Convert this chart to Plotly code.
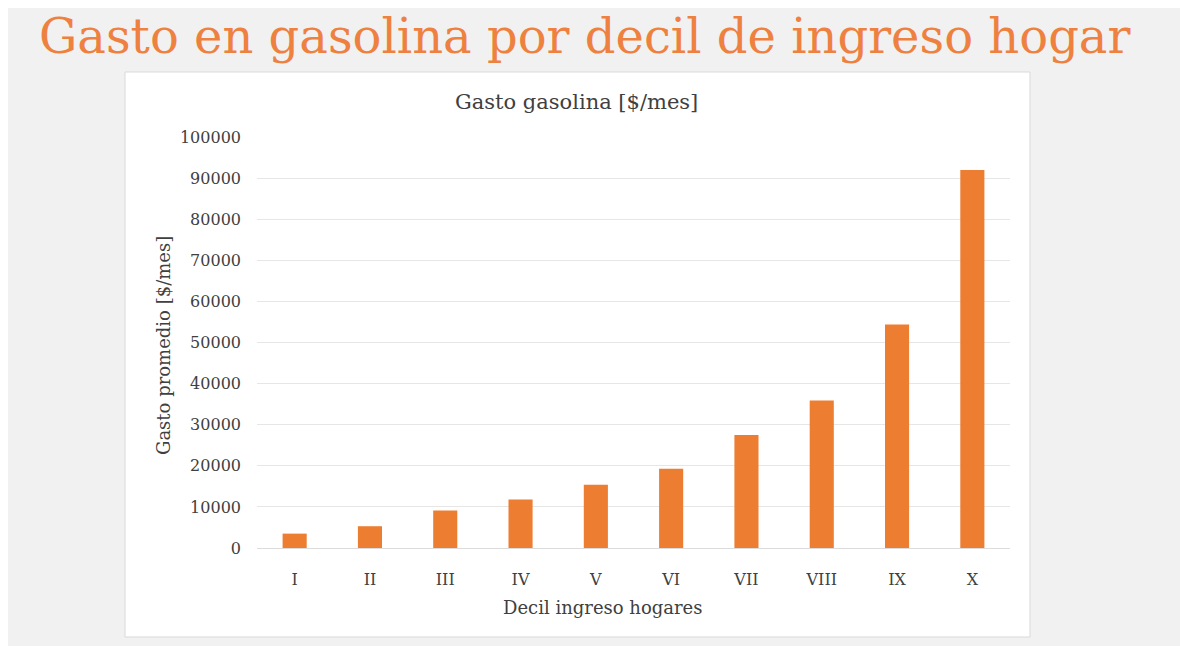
import plotly.graph_objects as go

deciles = ["I", "II", "III", "IV", "V", "VI", "VII", "VIII", "IX", "X"]
gasto = [3500, 5300, 9100, 11800, 15400, 19300, 27500, 35900, 54400, 92000]
y_ticks = list(range(0, 100001, 10000))

OFF = 8  # page body margin
W, H = 1188 - OFF, 646 - OFF
L, R, T, B = 257, 1010, 137, 548  # plot area, page pixels


def px_x(p):
    return (p - L) / (R - L)


def px_y(p):
    return (B - p) / (B - T)


SERIF = "DejaVu Serif"
ORANGE = "#ED7D31"
TXT = "#404040"

fig = go.Figure(go.Bar(x=deciles, y=gasto, marker=dict(color=ORANGE, line=dict(width=0))))

fig.update_layout(
    width=W, height=H,
    margin=dict(l=L - OFF, r=W - (R - OFF), t=T - OFF, b=H - (B - OFF), autoexpand=False),
    paper_bgcolor="#f1f1f1",
    plot_bgcolor="white",
    bargap=0.68,
    showlegend=False,
    font=dict(family=SERIF, color="#595959"),
    shapes=[
        dict(type="rect", xref="paper", yref="paper", x0=px_x(125), x1=px_x(1030),
             y0=px_y(637), y1=px_y(72), fillcolor="white", line=dict(color="#d9d9d9", width=1),
             layer="below"),
    ],
    annotations=[
        dict(text="Gasto en gasolina por decil de ingreso hogar", xref="paper", yref="paper",
             x=px_x(584), y=px_y(36), xanchor="center", yanchor="middle", showarrow=False,
             font=dict(family=SERIF, size=48, color="#EE8140")),
        dict(text="Gasto gasolina [$/mes]", xref="paper", yref="paper",
             x=px_x(576.5), y=px_y(102), xanchor="center", yanchor="middle", showarrow=False,
             font=dict(family=SERIF, size=21, color=TXT)),
        dict(text="Gasto promedio [$/mes]", xref="paper", yref="paper", textangle=-90,
             x=px_x(163), y=px_y(346), xanchor="center", yanchor="middle", showarrow=False,
             font=dict(family=SERIF, size=18, color=TXT)),
        dict(text="Decil ingreso hogares", xref="paper", yref="paper",
             x=px_x(602.5), y=px_y(607), xanchor="center", yanchor="middle", showarrow=False,
             font=dict(family=SERIF, size=18, color=TXT)),
    ],
)

fig.update_yaxes(range=[0, 100000], tickvals=y_ticks, ticktext=[str(v) for v in y_ticks],
                 showgrid=True, gridcolor="#e6e6e6", gridwidth=1, zeroline=False,
                 showline=False, ticks="", ticklabelstandoff=15,
                 tickfont=dict(family=SERIF, size=16, color=TXT), fixedrange=True)
fig.update_xaxes(showgrid=False, showline=True, linecolor="#dcdcdc", linewidth=1,
                 ticks="", ticklabelstandoff=17,
                 tickfont=dict(family=SERIF, size=16, color=TXT), fixedrange=True)

fig.write_html("out.html", config=dict(displayModeBar=False))
